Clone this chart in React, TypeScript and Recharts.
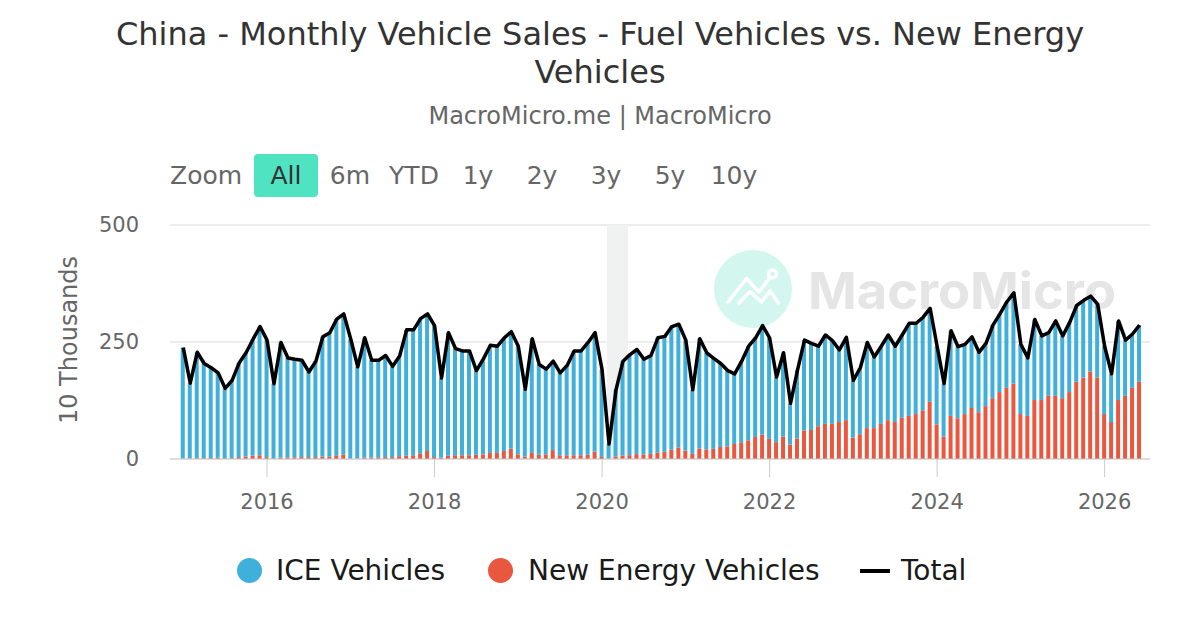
import React from 'react'
import {
  ComposedChart,
  Bar,
  Line,
  XAxis,
  YAxis,
  CartesianGrid,
  ReferenceArea
} from 'recharts'

// monthly, Jan 2015 .. Jun 2026 (10 thousand units)
const TOTAL = [
  238, 162, 228, 204, 195, 184, 151, 168, 205, 227, 256, 283,
  254, 161, 249, 216, 213, 211, 186, 209, 261, 270, 299, 310,
  256, 197, 259, 211, 211, 221, 198, 220, 276, 276, 300, 310,
  285, 173, 270, 236, 231, 231, 189, 214, 243, 241, 259, 272,
  241, 149, 257, 202, 192, 209, 184, 200, 231, 231, 249, 270,
  191, 32, 148, 209, 223, 234, 213, 221, 259, 262, 283, 288,
  254, 148, 257, 227, 215, 204, 189, 182, 209, 241, 259, 285,
  259, 175, 227, 119, 190, 254, 247, 241, 265, 253, 233, 260,
  168, 195, 249, 218, 241, 265, 241, 265, 290, 290, 303, 322,
  241, 161, 274, 240, 245, 261, 228, 247, 286, 310, 336, 355,
  245, 216, 298, 263, 270, 295, 263, 292, 328, 339, 348, 331,
  241, 182, 295, 254, 267, 286
]

const NEV = [
  0.7, 0.9, 1.5, 1.6, 1.9, 2.6, 1.7, 1.4, 4, 5, 7, 8,
  4, 1, 3, 3.5, 3.5, 4, 4, 4, 5, 5, 8, 9,
  1, 1, 3, 3, 3.5, 4, 4, 6, 7, 8, 12, 17,
  4, 3, 7, 8, 8, 8, 9, 10, 13, 13, 17, 22,
  10, 5, 13, 9, 10, 19, 8, 8, 8, 8, 9, 16,
  4.4, 1.3, 5.3, 7.2, 8.2, 10.4, 9.8, 10.9, 13.8, 16, 20, 24.8,
  17.9, 11, 22.6, 20.6, 21.7, 25.6, 27.1, 32.1, 35.7, 40, 47, 52,
  43, 36, 48, 31, 44, 61, 62, 70, 75, 75, 79, 83,
  46, 53, 66, 66, 75, 83, 79, 88, 92, 96, 104, 122,
  74, 48, 92, 87, 96, 109, 100, 113, 130, 143, 152, 161,
  96, 92, 126, 126, 135, 135, 130, 143, 165, 174, 187, 174,
  96, 79, 126, 135, 152, 165
]

const ICE = [
  237.3, 161.1, 226.5, 202.4, 193.1, 181.4, 149.3, 166.6, 201, 222, 249, 275,
  250, 160, 246, 212.5, 209.5, 207, 182, 205, 256, 265, 291, 301,
  255, 196, 256, 208, 207.5, 217, 194, 214, 269, 268, 288, 293,
  281, 170, 263, 228, 223, 223, 180, 204, 230, 228, 242, 250,
  231, 144, 244, 193, 182, 190, 176, 192, 223, 223, 240, 254,
  186.6, 30.7, 142.7, 201.8, 214.8, 223.6, 203.2, 210.1, 245.2, 246, 263, 263.2,
  236.1, 137, 234.4, 206.4, 193.3, 178.4, 161.9, 149.9, 173.3, 201, 212, 233,
  216, 139, 179, 88, 146, 193, 185, 171, 190, 178, 154, 177,
  122, 142, 183, 152, 166, 182, 162, 177, 198, 194, 199, 200,
  167, 113, 182, 153, 149, 152, 128, 134, 156, 167, 184, 194,
  149, 124, 172, 137, 135, 160, 133, 149, 163, 165, 161, 157,
  145, 103, 169, 119, 115, 121
]

const X_TICKS = [12, 36, 60, 84, 108, 132]
const X_TICK_LABELS = ['2016', '2018', '2020', '2022', '2024', '2026']
const Y_TICKS = [0, 250, 500]
const ZOOM_BUTTONS = ['All', '6m', 'YTD', '1y', '2y', '3y', '5y', '10y']

const ICE_COLOR = '#3fafdb'
const NEV_COLOR = '#e9573f'
const FONT = '"DejaVu Sans", sans-serif'

const data = TOTAL.map((t, i) => ({ i, ice: ICE[i], nev: NEV[i], total: t }))

const Watermark = () => (
  <svg width={1200} height={630} style={{ position: 'absolute', left: 0, top: 0 }}>
    <circle cx={753} cy={289} r={39} fill="#d3f6ee" />
    <g fill="none" stroke="#fff" strokeWidth={3.5} strokeLinecap="round" strokeLinejoin="round">
      <polyline points="728,302 746.5,278.5 759,292 769.5,278" />
      <circle cx={772.5} cy={274} r={4} />
      <polyline points="739,303 750,291.5 761.5,302 770,291 778.5,303" />
    </g>
    <text
      x={808}
      y={309}
      fontFamily="Inter, sans-serif"
      fontWeight={700}
      fontSize={51}
      fill="#e5e5e5"
      textLength={308}
      lengthAdjust="spacingAndGlyphs"
    >
      MacroMicro
    </text>
  </svg>
)

export default function App() {
  return (
    <div
      style={{
        position: 'absolute',
        left: 0,
        top: 0,
        width: 1200,
        height: 630,
        background: '#fff',
        fontFamily: FONT,
        overflow: 'hidden'
      }}
    >
      {/* Title */}
      <div
        style={{
          position: 'absolute',
          top: 15,
          left: 0,
          width: 1200,
          textAlign: 'center',
          fontSize: 32,
          lineHeight: '38px',
          color: '#333'
        }}
      >
        China - Monthly Vehicle Sales - Fuel Vehicles vs. New Energy
        <br />
        Vehicles
      </div>
      <div
        style={{
          position: 'absolute',
          top: 104,
          left: 0,
          width: 1200,
          textAlign: 'center',
          fontSize: 24,
          lineHeight: '24px',
          color: '#666'
        }}
      >
        MacroMicro.me | MacroMicro
      </div>

      {/* Range selector */}
      <div
        style={{
          position: 'absolute',
          left: 170,
          top: 154,
          height: 43,
          lineHeight: '44px',
          fontSize: 25,
          color: '#666'
        }}
      >
        Zoom
      </div>
      {ZOOM_BUTTONS.map((b, k) => (
        <div
          key={b}
          style={{
            position: 'absolute',
            left: 254 + k * 64,
            top: 154,
            width: 64,
            height: 43,
            lineHeight: '44px',
            textAlign: 'center',
            fontSize: 25,
            borderRadius: 4,
            background: k === 0 ? '#50e3c2' : 'transparent',
            color: k === 0 ? '#333' : '#666'
          }}
        >
          {b}
        </div>
      ))}

      <Watermark />

      {/* Y axis title */}
      <div
        style={{
          position: 'absolute',
          left: 69,
          top: 340,
          transform: 'translate(-50%, -50%) rotate(-90deg)',
          whiteSpace: 'nowrap',
          fontSize: 24,
          lineHeight: '24px',
          color: '#666'
        }}
      >
        10 Thousands
      </div>

      <div style={{ position: 'absolute', left: 0, top: 0 }}>
        <ComposedChart
          width={1200}
          height={630}
          data={data}
          margin={{ top: 225, right: 50, bottom: 111, left: 110 }}
        >
          <CartesianGrid vertical={false} stroke="#e6e6e6" strokeWidth={1.5} />
          <ReferenceArea x1={60.7} x2={63.7} y1={0} y2={500} fill="#f0f2f2" fillOpacity={1} stroke="none" />
          <XAxis
            type="number"
            dataKey="i"
            domain={[-1.9, 138.5]}
            allowDataOverflow
            ticks={X_TICKS}
            tickFormatter={(v: number) => X_TICK_LABELS[X_TICKS.indexOf(v)] ?? ''}
            height={60}
            stroke="#ccc"
            tickSize={18}
            tickMargin={17}
            tick={{ fontSize: 21, fill: '#666', fontFamily: FONT }}
          />
          <YAxis
            domain={[0, 500]}
            ticks={Y_TICKS}
            width={60}
            axisLine={false}
            tickLine={false}
            tickSize={0}
            tickMargin={31}
            tick={{ fontSize: 21, fill: '#666', fontFamily: FONT }}
          />
          <Bar dataKey="nev" stackId="s" fill={NEV_COLOR} barSize={4} isAnimationActive={false} />
          <Bar dataKey="ice" stackId="s" fill={ICE_COLOR} barSize={4} isAnimationActive={false} />
          <Line
            dataKey="total"
            type="linear"
            stroke="#000"
            strokeWidth={3.5}
            strokeLinejoin="round"
            dot={false}
            activeDot={false}
            isAnimationActive={false}
          />
        </ComposedChart>
      </div>

      {/* Legend */}
      <div style={{ position: 'absolute', left: 236.5, top: 557.5, width: 25, height: 25, borderRadius: '50%', background: ICE_COLOR }} />
      <div style={{ position: 'absolute', left: 276, top: 557, fontSize: 28, lineHeight: '28px', color: '#1a1a1a' }}>
        ICE Vehicles
      </div>
      <div style={{ position: 'absolute', left: 487.5, top: 557.5, width: 25, height: 25, borderRadius: '50%', background: NEV_COLOR }} />
      <div style={{ position: 'absolute', left: 528, top: 557, fontSize: 28, lineHeight: '28px', color: '#1a1a1a' }}>
        New Energy Vehicles
      </div>
      <div style={{ position: 'absolute', left: 860, top: 569, width: 30, height: 4, background: '#000' }} />
      <div style={{ position: 'absolute', left: 901, top: 557, fontSize: 28, lineHeight: '28px', color: '#1a1a1a' }}>
        Total
      </div>
    </div>
  )
}
